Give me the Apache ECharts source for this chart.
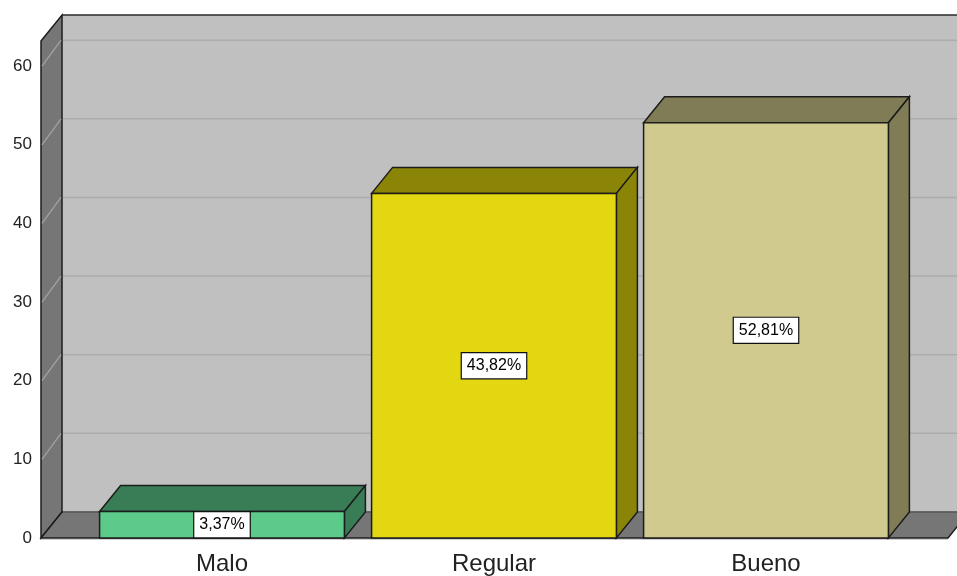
<!DOCTYPE html>
<html>
<head>
<meta charset="utf-8">
<script src="https://cdn.jsdelivr.net/npm/echarts@6/dist/echarts.min.js"></script>
<style>
html,body{margin:0;padding:0;background:#fff;}
#chart{width:957px;height:576px;}
</style>
</head>
<body>
<div id="chart"></div>
<script>
// ---- data ----
var categories = ['Malo', 'Regular', 'Bueno'];
var values = [3.37, 43.82, 52.81];
var labels = ['3,37%', '43,82%', '52,81%'];
var yTicks = [0, 10, 20, 30, 40, 50, 60];
var frontColors = ['#5ccb8a', '#e3d712', '#d0ca8e'];
var darkColors = ['#397d56', '#8b8507', '#807c56'];

// ---- style constants ----
var DX = 21, DY = -26;
var EDGE = '#1c1c1c';

var chart = echarts.init(document.getElementById('chart'));

function frameRender(params, api) {
  var cs = params.coordSys;
  var yBase = api.coord([0, 0])[1];
  var yTop = cs.y;
  var x0 = cs.x - 45, x1 = cs.x + cs.width + 46;
  var children = [];
  // back wall
  children.push({type: 'rect', shape: {x: x0 + DX, y: yTop + DY, width: x1 - x0 + 40, height: yBase - yTop},
    style: {fill: '#c0c0c0', stroke: null}});
  // back grid lines
  yTicks.forEach(function (t) {
    if (t === 0) return;
    var y = api.coord([0, t])[1];
    children.push({type: 'line', shape: {x1: x0 + DX, y1: y + DY, x2: x1 + DX + 40, y2: y + DY},
      style: {stroke: '#acacac', lineWidth: 1.5}});
  });
  // top edge of back wall
  children.push({type: 'line', shape: {x1: x0 + DX, y1: yTop + DY, x2: x1 + DX + 40, y2: yTop + DY},
    style: {stroke: '#2a2a2a', lineWidth: 1.5}});
  // left wall
  children.push({type: 'polygon', shape: {points: [[x0, yTop], [x0 + DX, yTop + DY], [x0 + DX, yBase + DY], [x0, yBase]]},
    style: {fill: '#767676', stroke: EDGE, lineWidth: 1.5}});
  yTicks.forEach(function (t) {
    if (t === 0) return;
    var y = api.coord([0, t])[1];
    children.push({type: 'line', shape: {x1: x0 + 1, y1: y, x2: x0 + DX - 1, y2: y + DY},
      style: {stroke: '#a4a4a4', lineWidth: 1.2}});
  });
  // floor
  children.push({type: 'polygon', shape: {points: [[x0, yBase], [x0 + DX, yBase + DY], [x1 + DX, yBase + DY], [x1, yBase]]},
    style: {fill: '#767676', stroke: EDGE, lineWidth: 1.5}});
  children.push({type: 'line', shape: {x1: x0 + DX + 1, y1: yBase + DY, x2: x1 + DX + 40, y2: yBase + DY},
    style: {stroke: '#8a8a8a', lineWidth: 1}});
  children.push({type: 'line', shape: {x1: x0, y1: yBase + 1.5, x2: x1, y2: yBase + 1.5},
    style: {stroke: '#cfcfcf', lineWidth: 1}});
  return {type: 'group', children: children};
}

function barRender(params, api) {
  var i = api.value(0);
  var v = api.value(1);
  var p0 = api.coord([i, 0]);
  var p1 = api.coord([i, v]);
  var bw = api.size([1, 0])[0] * 0.9;
  var xl = p0[0] - bw / 2, xr = p0[0] + bw / 2;
  var yb = p0[1], yt = p1[1];
  var idx = params.dataIndex;
  return {type: 'group', children: [
    {type: 'polygon', shape: {points: [[xl, yt], [xl + DX, yt + DY], [xr + DX, yt + DY], [xr, yt]]},
      style: {fill: darkColors[idx], stroke: EDGE, lineWidth: 1.5}},
    {type: 'polygon', shape: {points: [[xr, yt], [xr + DX, yt + DY], [xr + DX, yb + DY], [xr, yb]]},
      style: {fill: darkColors[idx], stroke: EDGE, lineWidth: 1.5}},
    {type: 'rect', shape: {x: xl, y: yt, width: bw, height: yb - yt},
      style: {fill: frontColors[idx], stroke: EDGE, lineWidth: 1.5}},
    {type: 'text', x: p0[0], y: (yt + yb) / 2,
      style: {text: labels[idx], fill: '#000', font: '16px "Liberation Sans", Arial, sans-serif',
        align: 'center', verticalAlign: 'middle', backgroundColor: '#fff', borderColor: '#111', borderWidth: 1.2,
        padding: [5, 5, 4, 5]}}
  ]};
}

chart.setOption({
  animation: false,
  backgroundColor: '#fff',
  grid: {left: 86, right: 55, top: 41, bottom: 38},
  xAxis: {
    type: 'category', data: categories,
    axisLine: {show: false}, axisTick: {show: false},
    axisLabel: {fontSize: 24, color: '#222', margin: 14, fontFamily: '"Liberation Sans", Arial, sans-serif'}
  },
  yAxis: {
    type: 'value', min: 0, max: 63.2, interval: 10, offset: 45,
    axisLine: {show: false}, axisTick: {show: false}, splitLine: {show: false},
    axisLabel: {fontSize: 17, color: '#222', margin: 9, showMaxLabel: false, padding: [5, 0, 0, 0],
      fontFamily: '"Liberation Sans", Arial, sans-serif'}
  },
  series: [
    {type: 'custom', z: 1, clip: false, silent: true, renderItem: frameRender, data: [[0, 0]]},
    {type: 'custom', z: 2, clip: false, renderItem: barRender,
      data: values.map(function (v, i) { return [i, v]; })}
  ]
});
</script>
</body>
</html>
